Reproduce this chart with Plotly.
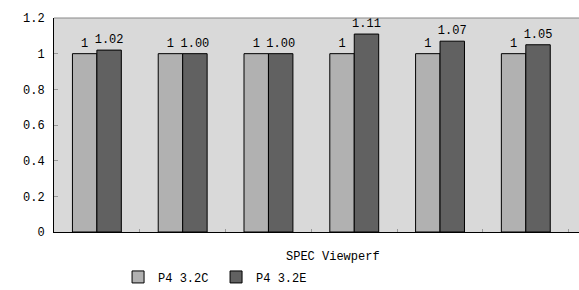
import plotly.graph_objects as go

categories = ["A", "B", "C", "D", "E", "F"]
series_c = [1, 1, 1, 1, 1, 1]
series_e = [1.02, 1.00, 1.00, 1.11, 1.07, 1.05]
labels_c = ["1", "1", "1", "1", "1", "1"]
labels_e = ["1.02", "1.00", "1.00", "1.11", "1.07", "1.05"]
y_ticks = [0, 0.2, 0.4, 0.6, 0.8, 1, 1.2]
y_tick_text = ["0", "0.2", "0.4", "0.6", "0.8", "1", "1.2"]

FONT = "Liberation Mono"
x_idx = list(range(len(categories)))

fig = go.Figure()
fig.add_trace(go.Bar(
    x=x_idx, y=series_c, name="P4 3.2C", text=labels_c,
    textposition="outside", cliponaxis=False, constraintext="none",
    marker=dict(color="#b1b1b1", line=dict(color="#000000", width=1)),
    textfont=dict(family=FONT, size=12, color="#000"),
))
fig.add_trace(go.Bar(
    x=x_idx, y=series_e, name="P4 3.2E", text=labels_e,
    textposition="outside", cliponaxis=False, constraintext="none",
    marker=dict(color="#616161", line=dict(color="#000000", width=1)),
    textfont=dict(family=FONT, size=12, color="#000"),
))

fig.update_layout(
    width=579, height=290,
    margin=dict(l=54, r=0, t=18, b=58, autoexpand=False),
    paper_bgcolor="#ffffff",
    plot_bgcolor="#d9d9d9",
    barmode="group", bargap=0.43, bargroupgap=0,
    font=dict(family=FONT, size=12, color="#000"),
    showlegend=True,
    legend=dict(orientation="h", x=0.122, xanchor="left", y=-0.21, yanchor="middle",
                font=dict(family=FONT, size=12, color="#000"),
                itemwidth=30, entrywidth=53, entrywidthmode="pixels",
                tracegroupgap=0, bgcolor="rgba(0,0,0,0)"),
    xaxis=dict(range=[-0.5, 5.62], showticklabels=False, showgrid=False,
               zeroline=False, showline=True, linecolor="#000", linewidth=1,
               ticks="inside", ticklen=3, tickcolor="#999",
               tickvals=[i + 0.5 for i in x_idx]),
    yaxis=dict(range=[0, 1.2], tickvals=y_ticks, ticktext=y_tick_text,
               showgrid=False, zeroline=False, showline=True, linecolor="#000",
               linewidth=1, ticks="inside", ticklen=4, tickcolor="#999",
               ticklabelstandoff=6,
               tickfont=dict(family=FONT, size=12, color="#000")),
    shapes=[dict(type="line", xref="paper", yref="paper", x0=0, x1=1, y0=1, y1=1,
                 line=dict(color="#888888", width=1))],
    annotations=[dict(text="SPEC Viewperf", xref="paper", yref="paper",
                      x=0.532, y=-0.115, xanchor="center", yanchor="middle",
                      showarrow=False, font=dict(family=FONT, size=12, color="#000"))],
)

fig.write_html("out.html")
